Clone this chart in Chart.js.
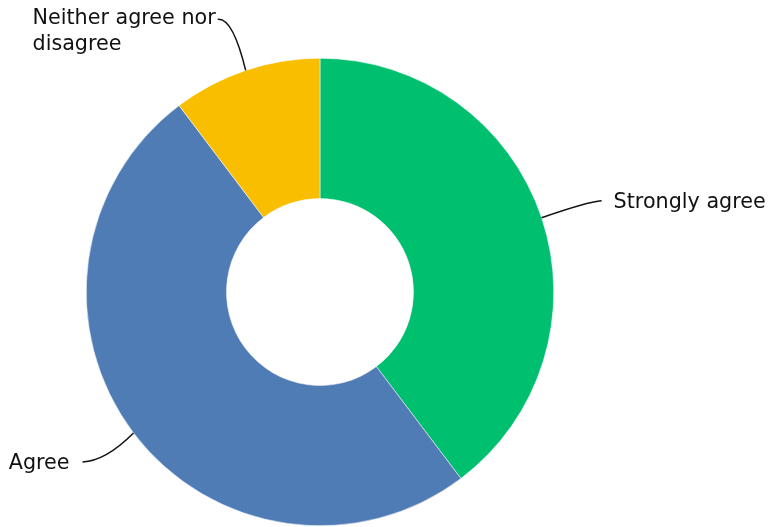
<!DOCTYPE html>
<html lang="en">
<head>
    <meta charset="UTF-8">
    <meta name="viewport" content="width=device-width, initial-scale=1.0">
    <title>Survey answers</title>
    <script src="https://cdn.jsdelivr.net/npm/chart.js"></script>
    <style>
        body{
            margin: 0;
            background: #fff;
        }
        .wrap{
            width: 769px;
            height: 527px;
        }
    </style>
</head>
<body>
    <div class="wrap">
        <canvas id="myChart"></canvas>
    </div>
</body>
</html>
<script>
    const answers = ['Strongly agree', 'Agree', 'Neither agree nor disagree'];
    const shares = [39.7, 50.0, 10.3];
    const sliceColors = ['#00bf6f', '#507cb6', '#f9be00'];
    // how each label is wrapped when drawn
    const labelLines = [['Strongly agree'], ['Agree'], ['Neither agree nor', 'disagree']];

    // leader line: offsets from the slice edge to the bend and end, then where the text sits
    const leaders = [
        { end: [60, -17], ctrl: [46, -16], side: 'right' },
        { end: [-51, 29], ctrl: [-28, 28], side: 'left' },
        { end: [-28, -51], ctrl: [-13, -53], side: 'top' }
    ];

    const FONT = '20.7px "DejaVu Sans", sans-serif';

    const calloutPlugin = {
        id: 'callouts',
        afterDatasetsDraw(chart) {
            const ctx = chart.ctx;
            const meta = chart.getDatasetMeta(0);
            ctx.save();
            ctx.font = FONT;
            ctx.fillStyle = '#111';
            ctx.strokeStyle = '#111';
            ctx.lineWidth = 1.5;
            meta.data.forEach((arc, i) => {
                const p = arc.getProps(['x', 'y', 'startAngle', 'endAngle', 'outerRadius'], true);
                const mid = (p.startAngle + p.endAngle) / 2;
                const sx = p.x + Math.cos(mid) * p.outerRadius;
                const sy = p.y + Math.sin(mid) * p.outerRadius;
                const l = leaders[i];
                const ex = sx + l.end[0], ey = sy + l.end[1];
                ctx.beginPath();
                ctx.moveTo(sx, sy);
                ctx.quadraticCurveTo(sx + l.ctrl[0], sy + l.ctrl[1], ex, ey);
                ctx.stroke();

                const lines = labelLines[i];
                ctx.textBaseline = 'alphabetic';
                if (l.side === 'right') {
                    ctx.textAlign = 'left';
                    ctx.fillText(lines[0], ex + 12, ey + 7);
                } else if (l.side === 'left') {
                    ctx.textAlign = 'right';
                    ctx.fillText(lines[0], ex - 13, ey + 7);
                } else {
                    ctx.textAlign = 'left';
                    const w = ctx.measureText(lines[0]).width;
                    const left = ex - 2 - w;
                    lines.forEach((t, k) => ctx.fillText(t, left, ey + 5 + k * 26));
                }
            });
            ctx.restore();
        }
    };

    const myChart = new Chart(document.querySelector('#myChart'), {
        type: 'doughnut',
        data: {
            labels: answers,
            datasets: [{
                data: shares,
                backgroundColor: sliceColors,
                borderColor: '#ffffff',
                borderWidth: 0.5
            }]
        },
        options: {
            responsive: true,
            maintainAspectRatio: false,
            animation: false,
            cutout: '40%',
            layout: {
                padding: { left: 86, right: 215, top: 58, bottom: 1 }
            },
            plugins: {
                legend: { display: false },
                tooltip: { enabled: false }
            }
        },
        plugins: [calloutPlugin]
    });
</script>
